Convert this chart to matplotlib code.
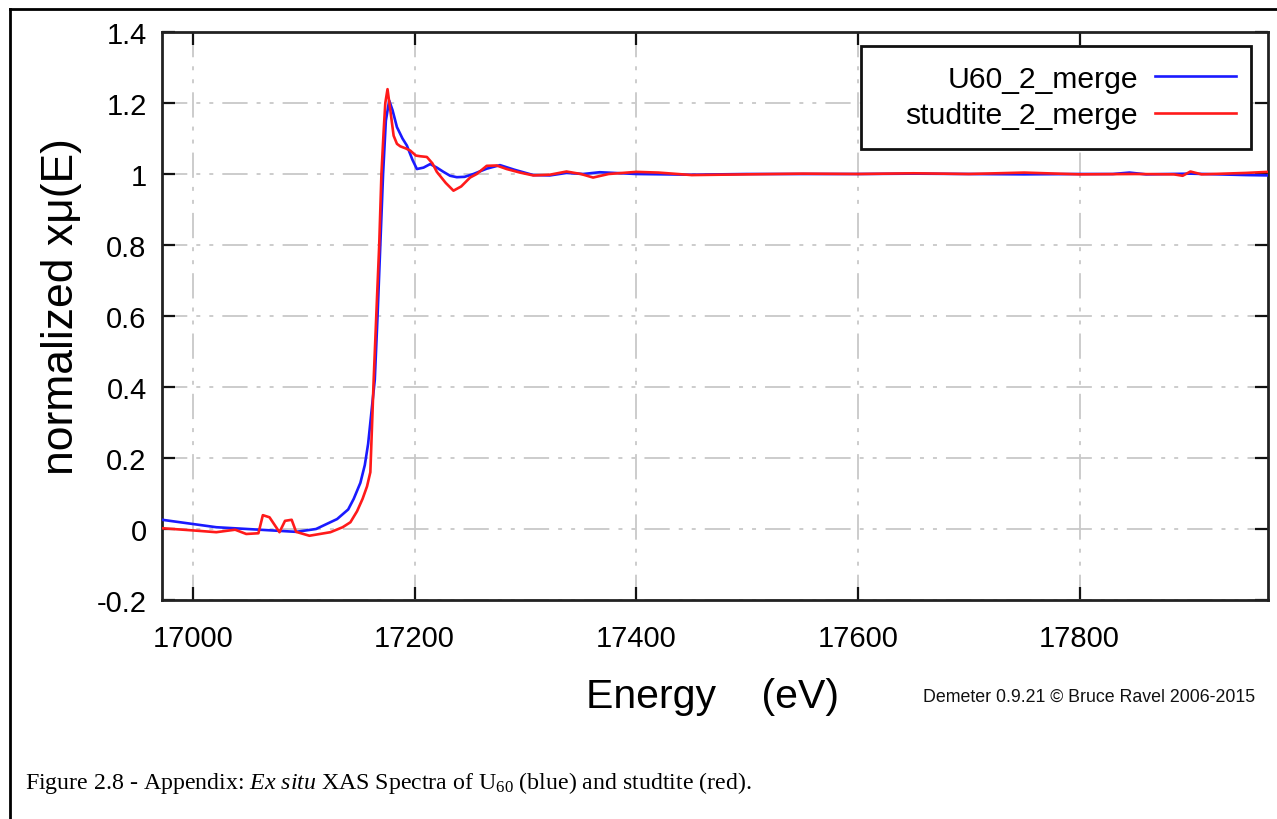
import numpy as np
import matplotlib
matplotlib.use("Agg")
import matplotlib.pyplot as plt
from matplotlib.lines import Line2D
from matplotlib.patches import Rectangle
from matplotlib.ticker import FuncFormatter

plt.rcParams['font.family'] = ['Liberation Sans', 'DejaVu Sans']
plt.rcParams['axes.unicode_minus'] = False
plt.rcParams['mathtext.fontset'] = 'custom'
plt.rcParams['mathtext.rm'] = 'Liberation Serif'
plt.rcParams['mathtext.it'] = 'Liberation Serif:italic'
plt.rcParams['mathtext.bf'] = 'Liberation Serif:bold'

# ---- data ----
energy_u60 = [16972, 17021, 17060, 17093, 17111, 17130, 17140, 17145, 17151, 17155,
              17158, 17161, 17164, 17166.5, 17169, 17171.5, 17174, 17177, 17180,
              17184, 17189, 17193, 17198, 17202, 17208, 17214, 17220, 17226, 17232,
              17238, 17245, 17253, 17265, 17277, 17290, 17307, 17322, 17337, 17352,
              17367, 17400, 17450, 17500, 17550, 17600, 17650, 17700, 17750, 17800,
              17830, 17845, 17860, 17900, 17950, 17970]
mu_u60 = [0.026, 0.005, -0.002, -0.008, 0.0, 0.028, 0.055, 0.085, 0.13, 0.18,
          0.24, 0.33, 0.42, 0.6, 0.8, 1.0, 1.15, 1.207, 1.18,
          1.132, 1.10, 1.08, 1.04, 1.014, 1.018, 1.028, 1.018, 1.006, 0.995,
          0.991, 0.992, 1.0, 1.015, 1.025, 1.012, 0.997, 0.996, 1.003, 1.0,
          1.005, 1.0, 0.998, 1.0, 1.0, 1.0, 1.001, 1.0, 0.999, 1.0,
          1.0, 1.004, 0.999, 1.001, 0.997, 0.996]

energy_stud = [16973, 17000, 17021, 17038, 17048, 17059, 17063, 17069, 17078, 17083,
               17089, 17093, 17105, 17124, 17135, 17142, 17148, 17153, 17157, 17160,
               17163, 17166, 17168, 17170, 17172, 17173.5, 17175.5, 17178, 17181,
               17184, 17187, 17192, 17196, 17201, 17205, 17211, 17216, 17220, 17228,
               17235, 17242, 17250, 17256, 17265, 17274, 17283, 17295, 17307, 17322,
               17337, 17350, 17361, 17375, 17400, 17420, 17450, 17500, 17550, 17600,
               17650, 17700, 17750, 17800, 17850, 17885, 17893, 17900, 17910, 17950,
               17970]
mu_stud = [0.002, -0.004, -0.009, -0.002, -0.014, -0.012, 0.039, 0.033, -0.009, 0.023,
           0.026, -0.008, -0.019, -0.009, 0.005, 0.019, 0.05, 0.085, 0.12, 0.16,
           0.42, 0.65, 0.8, 1.0, 1.12, 1.2, 1.239, 1.18, 1.108,
           1.085, 1.078, 1.072, 1.066, 1.052, 1.05, 1.048, 1.03, 1.006, 0.975,
           0.953, 0.965, 0.99, 1.0, 1.023, 1.024, 1.014, 1.004, 0.996, 0.998,
           1.007, 1.0, 0.99, 1.0, 1.006, 1.004, 0.997, 0.999, 1.001, 1.0,
           1.002, 1.0, 1.004, 0.999, 1.0, 0.999, 0.995, 1.007, 0.999, 1.003,
           1.006]

series_labels = ["U60_2_merge", "studtite_2_merge"]
series_colors = ["#1a1aff", "#ff1a1a"]

x_ticks = [17000, 17200, 17400, 17600, 17800]
y_ticks = [-0.2, 0, 0.2, 0.4, 0.6, 0.8, 1, 1.2, 1.4]

W, H = 1277, 820
fig = plt.figure(figsize=(W / 100, H / 100), dpi=100)
fig.patch.set_facecolor("white")

# outer page border (left and top)
fig.add_artist(Line2D([10 / W, 10 / W], [0, 1 - 10 / H], color="black", lw=2,
                      transform=fig.transFigure))
fig.add_artist(Line2D([10 / W, 1], [1 - 10 / H, 1 - 10 / H], color="black", lw=2,
                      transform=fig.transFigure))

AX_L, AX_R, AX_T, AX_B = 162, 1268, 33, 601
ax = fig.add_axes([AX_L / W, 1 - AX_B / H, (AX_R - AX_L) / W, (AX_B - AX_T) / H])

def ax_x(px):
    return (px - AX_L) / (AX_R - AX_L)

def ax_y(py):
    return (AX_B - py) / (AX_B - AX_T)

ax.plot(energy_u60, mu_u60, color=series_colors[0], lw=1.9, label=series_labels[0], zorder=3)
ax.plot(energy_stud, mu_stud, color=series_colors[1], lw=1.9, label=series_labels[1], zorder=4)

ax.set_xlim(16972, 17970)
ax.set_ylim(-0.2, 1.4)
ax.set_xticks(x_ticks)
ax.set_yticks(y_ticks)
ax.yaxis.set_major_formatter(FuncFormatter(lambda v, p: "%g" % round(v, 2)))
ax.xaxis.set_major_formatter(FuncFormatter(lambda v, p: "%d" % v))

ax.grid(True, color="#c8c8c8", lw=1.3, dashes=(14, 5, 2.2, 5, 2.2, 5))
ax.set_axisbelow(True)

for s in ax.spines.values():
    s.set_linewidth(2)
    s.set_color("#222222")
ax.tick_params(direction="in", length=9.5, width=1.6, top=True, right=True,
               labelsize=21, colors="#111111", labelcolor="black")
ax.tick_params(axis="y", pad=11)
ax.tick_params(axis="x", pad=17)

ax.set_xlabel("Energy    (eV)", fontsize=29.5, va="center")
ax.xaxis.set_label_coords(0.498, -0.169)
ax.set_ylabel("normalized xμ(E)", fontsize=32, va="center")
ax.yaxis.set_label_coords(-0.0913, 0.5176)

# legend: entries by matplotlib, frame drawn as a rectangle
leg = ax.legend(loc="upper right", bbox_to_anchor=(ax_x(1236), ax_y(66)),
                fontsize=21.7, markerfirst=False, frameon=False,
                handlelength=2.7, borderpad=0, labelspacing=0.27, borderaxespad=0,
                handletextpad=0.55)
for t in leg.get_texts():
    t.set_ha("right")
leg.set_zorder(6)
ax.add_patch(Rectangle((ax_x(861), ax_y(150)), ax_x(1251) - ax_x(861), ax_y(47) - ax_y(150),
                       transform=ax.transAxes, facecolor="white", edgecolor="#111111",
                       lw=2, zorder=5))

fig.text(1255 / W, 1 - 697 / H, "Demeter 0.9.21 © Bruce Ravel 2006-2015",
         fontsize=12.8, ha="right", va="center", color="#111111")

fig.text(25 / W, 1 - 783 / H,
         r"Figure 2.8 - Appendix: $\mathit{Ex\ situ}$ XAS Spectra of U$_{60}$ (blue) and studtite (red).",
         fontsize=17.2, ha="left", va="center", family=["Liberation Serif", "DejaVu Serif"])

fig.savefig("out.png", dpi=100)
